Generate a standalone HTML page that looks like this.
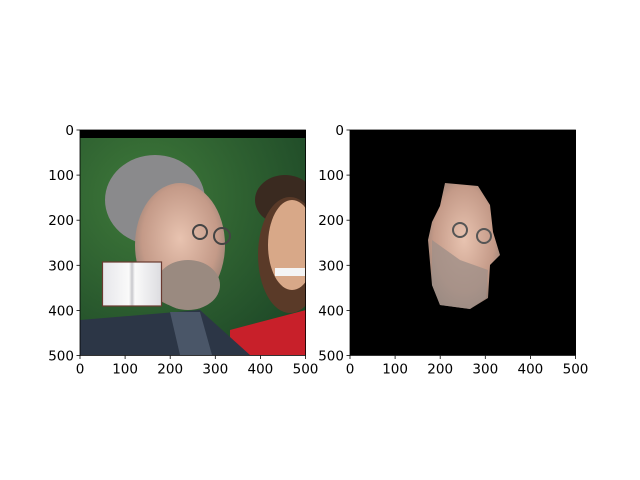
<!DOCTYPE html>
<html><head><meta charset="utf-8"><style>
html,body{margin:0;padding:0;background:#fff}
svg{display:block;font-family:"DejaVu Sans","Liberation Sans",sans-serif}
</style></head><body>
<svg id="fig" width="640" height="480" viewBox="0 0 640 480">
<defs>
<radialGradient id="bg" cx="0.3" cy="0.3" r="0.8"><stop offset="0" stop-color="#3f7a3a"/><stop offset="1" stop-color="#1f4a28"/></radialGradient>
<radialGradient id="skin" cx="0.5" cy="0.45" r="0.6"><stop offset="0" stop-color="#e8c3b0"/><stop offset="0.7" stop-color="#c49a88"/><stop offset="1" stop-color="#8d7a70"/></radialGradient>
<linearGradient id="card" x1="0" x2="1"><stop offset="0" stop-color="#e6e6ea"/><stop offset="0.45" stop-color="#fafafa"/><stop offset="0.5" stop-color="#c8c8cc"/><stop offset="0.55" stop-color="#fafafa"/><stop offset="1" stop-color="#dcdce0"/></linearGradient>
<clipPath id="clipL"><rect x="80" y="130" width="226" height="225"/></clipPath>
</defs>
<g clip-path="url(#clipL)">
<rect x="80" y="130" width="226" height="225" fill="url(#bg)"/>
<rect x="80" y="130" width="226" height="8" fill="#000"/>
<ellipse cx="285" cy="200" rx="30" ry="25" fill="#3a2a20"/>
<ellipse cx="290" cy="255" rx="32" ry="58" fill="#5a3a28"/>
<ellipse cx="292" cy="245" rx="24" ry="45" fill="#d8a888"/>
<rect x="275" y="268" width="30" height="8" fill="#f4f4f4"/>
<path d="M230 330 L306 310 L306 355 L230 355Z" fill="#c8202a"/>
<ellipse cx="155" cy="200" rx="50" ry="45" fill="#8a8a8c"/>
<ellipse cx="180" cy="245" rx="45" ry="62" fill="url(#skin)"/>
<ellipse cx="188" cy="285" rx="32" ry="25" fill="#9a8a80"/>
<path d="M80 320 L200 310 L250 355 L80 355Z" fill="#2c3646"/>
<path d="M170 312 L200 312 L212 355 L180 355Z" fill="#4a5668"/>
<circle cx="200" cy="232" r="7" fill="none" stroke="#444" stroke-width="2"/>
<circle cx="222" cy="236" r="8" fill="none" stroke="#444" stroke-width="2"/>
</g>
<g>
<rect x="102.5" y="262" width="59" height="44" fill="url(#card)" stroke="#6a3a30" stroke-width="1.2"/>
</g>
<rect x="350" y="130" width="226" height="225" fill="#000"/>
<g>
<path d="M445 183 L478 186 L490 205 L493 232 L500 255 L490 265 L488 298 L470 309 L440 305 L432 285 L428 240 L432 222 L440 206Z" fill="url(#skin)"/>
<path d="M432 240 L460 260 L488 270 L486 298 L470 309 L440 305 L432 285Z" fill="#a09088" opacity="0.8"/>
<circle cx="460" cy="230" r="7" fill="none" stroke="#555" stroke-width="2"/>
<circle cx="484" cy="236" r="7" fill="none" stroke="#555" stroke-width="2"/>
</g>
<g id="axes"></g>
</svg>
<script>
const ticks=[0,100,200,300,400,500];
const tickLabels=["0","100","200","300","400","500"];
const panels=[{name:'left',x0:80},{name:'right',x0:350}];
const y0=130, size=225.5, dmax=500;
const ns='http://www.w3.org/2000/svg';
const g=document.getElementById('axes');
function mk(t,a){const e=document.createElementNS(ns,t);for(const k in a)e.setAttribute(k,a[k]);g.appendChild(e);return e;}
panels.forEach(p=>{
  const sx=v=>p.x0+v/dmax*size, sy=v=>y0+v/dmax*size;
  const fr=mk('rect',{x:p.x0,y:y0,width:size,height:size,fill:'none',stroke:'#000','stroke-width':0.8});
  
  
  ticks.forEach((t,i)=>{
    const lx=mk('line',{x1:sx(t),x2:sx(t),y1:y0+size,y2:y0+size+3.5,stroke:'#000','stroke-width':0.8});
    
    
    const tx=mk('text',{x:sx(t),y:y0+size+18,'font-size':13.5,'text-anchor':'middle'});
    tx.textContent=tickLabels[i];
    
    
    const ly=mk('line',{x1:p.x0-3.5,x2:p.x0,y1:sy(t),y2:sy(t),stroke:'#000','stroke-width':0.8});
    
    
    const ty=mk('text',{x:p.x0-6,y:sy(t)+5,'font-size':13.5,'text-anchor':'end'});
    ty.textContent=tickLabels[i];
    
    
  });
});
</script>
</body></html>
